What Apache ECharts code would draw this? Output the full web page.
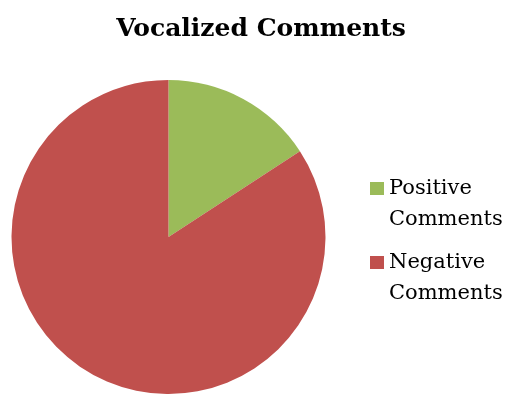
<!DOCTYPE html>
<html>
<head>
<meta charset="utf-8">
<script src="https://cdn.jsdelivr.net/npm/echarts@6/dist/echarts.min.js"></script>
<style>
  html, body { margin: 0; padding: 0; background: #ffffff; }
  #chart { width: 506px; height: 394px; }
</style>
</head>
<body>
<div id="chart"></div>
<script>
// Comment counts by tone
const categories = ['Positive Comments', 'Negative Comments'];
const values = [3, 16];
const colors = ['#9BBB59', '#C0504D'];

const serif = 'DejaVu Serif';

const chart = echarts.init(document.getElementById('chart'), null, { renderer: 'canvas' });

chart.setOption({
  animation: false,
  backgroundColor: '#ffffff',
  title: {
    text: 'Vocalized Comments',
    left: 256,
    textAlign: 'center',
    top: 12,
    textStyle: {
      fontFamily: serif,
      fontWeight: 'bold',
      fontSize: 25,
      color: '#000000'
    }
  },
  legend: {
    orient: 'vertical',
    left: 365,
    top: 137,
    itemWidth: 14,
    itemHeight: 13,
    itemGap: -19,
    icon: 'rect',
    selectedMode: false,
    data: categories,
    // a leading blank line keeps the swatch level with the first text line
    formatter: name => ' \n' + name.replace(' ', '\n'),
    textStyle: {
      fontFamily: serif,
      fontSize: 21,
      color: '#000000',
      lineHeight: 31
    }
  },
  series: [{
    type: 'pie',
    center: [168.5, 237],
    radius: 157,
    startAngle: 90,
    clockwise: true,
    label: { show: false },
    labelLine: { show: false },
    emphasis: { disabled: true },
    itemStyle: { borderWidth: 0 },
    data: categories.map((name, i) => ({
      name,
      value: values[i],
      itemStyle: { color: colors[i] }
    }))
  }]
});
</script>
</body>
</html>
